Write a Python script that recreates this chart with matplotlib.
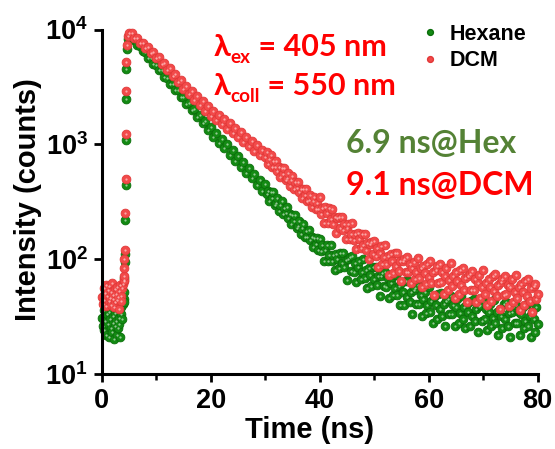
"""Time-resolved PL decay of the dye in hexane vs DCM (TCSPC, log scale)."""

import numpy as np
import matplotlib
matplotlib.use("Agg")
import matplotlib.pyplot as plt
from matplotlib.lines import Line2D
from matplotlib.transforms import IdentityTransform

# ---- data (counts) ----
t_pre = np.arange(0.125, 4.01, 0.125)        # pre-pulse channels, ns
hexane_pre = [31, 26, 36, 24, 29, 38, 22, 33, 27, 21, 35, 30, 25, 37, 23, 28,
              32, 20, 26, 34, 29, 22, 36, 25, 31, 27, 21, 33, 38, 30, 41, 45]
dcm_pre = [47, 41, 56, 44, 51, 60, 39, 48, 54, 43, 58, 46, 40, 52, 62, 45,
           49, 38, 55, 42, 50, 57, 44, 47, 53, 37, 59, 48, 43, 56, 61, 64]

t_rise_hexane = [4.05, 4.1, 4.15, 4.2, 4.25, 4.35, 4.4, 4.45, 4.5, 4.55, 4.6, 4.75]
hexane_rise = [42, 52, 68, 95, 112, 220, 440, 1100, 2500, 4500, 6800, 8300]
t_rise_dcm = [4.0, 4.05, 4.1, 4.15, 4.25, 4.35, 4.4, 4.45, 4.5, 4.55, 4.65, 4.8]
dcm_rise = [66, 72, 83, 100, 120, 250, 495, 1240, 2900, 5200, 7300, 8700]

t_main = np.arange(5.0, 29.75, 0.5)          # 5.0 .. 29.5 ns
hexane_main = [8800, 8300, 8100, 7350, 7150, 6450, 6350, 5700, 5600, 5000,
               4950, 4420, 4400, 3850, 3800, 3330, 3380, 2950, 2980, 2580,
               2600, 2230, 2310, 1990, 2040, 1720, 1800, 1520, 1610, 1330,
               1410, 1160, 1260, 1030, 1120, 930, 1000, 810, 890, 720,
               785, 640, 700, 565, 620, 505, 550, 445, 490, 395]
dcm_main = [9300, 9400, 8400, 8500, 7650, 7700, 6900, 7050, 6250, 6400,
            5650, 5780, 5020, 5150, 4420, 4600, 3900, 4080, 3460, 3620,
            3060, 3250, 2740, 2930, 2440, 2650, 2190, 2390, 1960, 2150,
            1760, 1960, 1620, 1800, 1490, 1650, 1370, 1530, 1250, 1400,
            1150, 1290, 1050, 1170, 965, 1075, 880, 985, 805, 900]

t_tail = np.arange(30.0, 80.01, 0.25)        # 30 .. 80 ns
hexane_tail = [448, 366, 389, 319, 382, 340, 384, 298, 308, 340, 264, 295,
               321, 248, 281, 250, 282, 230, 245, 201, 241, 214, 242, 187,
               194, 213, 166, 185, 201, 156, 176, 156, 178, 146, 155, 127,
               152, 135, 154, 119, 151, 118, 132, 97, 121, 132, 97, 109,
               134, 96, 109, 81, 112, 100, 83, 113, 92, 114, 85, 98,
               66, 100, 104, 79, 106, 78, 92, 63, 85, 96, 67, 78,
               101, 69, 81, 56, 84, 73, 58, 86, 67, 86, 60, 72,
               48, 72, 76, 58, 77, 57, 68, 46, 62, 70, 49, 56,
               73, 49, 58, 40, 62, 52, 40, 65, 47, 65, 42, 52,
               33, 54, 56, 41, 59, 41, 49, 32, 45, 52, 34, 40,
               57, 35, 43, 28, 47, 40, 30, 50, 37, 51, 32, 41,
               26, 43, 45, 33, 48, 33, 40, 26, 38, 45, 28, 34,
               48, 30, 38, 25, 41, 35, 26, 43, 32, 45, 29, 37,
               23, 39, 40, 29, 43, 30, 37, 24, 35, 41, 26, 31,
               44, 28, 35, 22, 37, 32, 25, 41, 30, 42, 26, 34,
               21, 35, 38, 28, 40, 28, 35, 22, 33, 38, 25, 29,
               41, 26, 32, 21, 35, 30, 23, 38, 27]
dcm_tail = [776, 858, 669, 747, 814, 630, 716, 636, 722, 590, 630, 519,
            621, 554, 627, 488, 506, 559, 436, 487, 531, 411, 467, 416,
            473, 386, 412, 339, 407, 362, 409, 319, 330, 365, 286, 320,
            350, 272, 310, 276, 347, 248, 280, 206, 283, 250, 208, 281,
            226, 276, 203, 233, 168, 229, 234, 186, 231, 180, 203, 149,
            185, 202, 150, 166, 205, 147, 166, 122, 169, 149, 124, 167,
            134, 164, 121, 139, 100, 136, 140, 112, 145, 107, 125, 85,
            114, 129, 90, 104, 134, 90, 106, 73, 111, 96, 76, 113,
            87, 114, 79, 96, 64, 97, 101, 78, 105, 77, 91, 62,
            84, 95, 67, 78, 103, 69, 83, 57, 87, 76, 61, 91,
            70, 96, 62, 78, 49, 81, 87, 62, 91, 63, 77, 50,
            72, 84, 54, 66, 92, 58, 71, 46, 77, 65, 50, 81,
            60, 83, 54, 68, 42, 71, 74, 54, 79, 54, 67, 42,
            62, 73, 46, 57, 80, 50, 62, 40, 67, 57, 43, 71,
            53, 74, 48, 60, 37, 63, 67, 49, 72, 50, 60, 39,
            57, 67, 42, 52, 73, 46, 57, 36, 61, 52, 40, 65,
            48, 67, 43, 56, 35, 58, 61, 45, 50]

x_ticks = [0, 20, 40, 60, 80]
y_ticks = [10, 100, 1000, 10000]
y_ticklabels = [r"$\mathbf{10^{1}}$", r"$\mathbf{10^{2}}$",
                r"$\mathbf{10^{3}}$", r"$\mathbf{10^{4}}$"]

GREEN, GREEN_EDGE, GREEN_HI = "#138a13", "#0b6e0b", "#cfe8cf"
RED, RED_EDGE, RED_HI = "#f24a4a", "#e23838", "#ffd2d2"

W, H = 555, 449

plt.rcParams["font.family"] = ["Liberation Sans", "DejaVu Sans"]
plt.rcParams["font.weight"] = "bold"
plt.rcParams["mathtext.fontset"] = "custom"
plt.rcParams["mathtext.bf"] = "Liberation Sans:bold"
plt.rcParams["mathtext.rm"] = "Liberation Sans:bold"


def series(t_parts, y_parts):
    return np.concatenate([np.asarray(t, float) for t in t_parts]), \
        np.concatenate([np.asarray(y, float) for y in y_parts])


def draw_dots(ax, t, y, face, edge, hi):
    ax.plot(t, y, ls="none", marker="o", ms=6.3, mfc=face, mec=edge,
            mew=0.6, clip_on=False)
    ax.plot(t, y, ls="none", marker="o", ms=1.6, mfc=hi, mec="none",
            alpha=0.7, clip_on=False)


def text_run(fig, x, y, parts, color, size, family):
    """Place pieces of text one after another; y is the baseline in image px,
    dy shifts a piece down (subscript)."""
    r = fig.canvas.get_renderer()
    for s, scale, dy in parts:
        t = fig.text(x, H - y - dy, s, transform=IdentityTransform(),
                     color=color, fontsize=size * scale, fontweight="bold",
                     family=family, ha="left", va="baseline")
        x = t.get_window_extent(r).x1


fig = plt.figure(figsize=(W / 100, H / 100), dpi=100)
ax = fig.add_axes([101.7 / W, 75 / H, 436 / W, 344.5 / H])

t_hex, y_hex = series([t_pre, t_rise_hexane, t_main, t_tail],
                      [hexane_pre, hexane_rise, hexane_main, hexane_tail])
t_dcm, y_dcm = series([t_pre, t_rise_dcm, t_main, t_tail],
                      [dcm_pre, dcm_rise, dcm_main, dcm_tail])
draw_dots(ax, t_hex, y_hex, GREEN, GREEN_EDGE, GREEN_HI)
draw_dots(ax, t_dcm, y_dcm, RED, RED_EDGE, RED_HI)

ax.set_yscale("log")
ax.set_xlim(0, 80)
ax.set_ylim(10, 10000)
ax.set_xticks(x_ticks)
ax.set_xticks([10, 30, 50, 70], minor=True)
ax.set_yticks(y_ticks, labels=y_ticklabels)
ax.yaxis.set_minor_locator(matplotlib.ticker.NullLocator())
for s in ("top", "right"):
    ax.spines[s].set_visible(False)
for s in ("left", "bottom"):
    ax.spines[s].set_linewidth(2.2)
ax.tick_params(which="major", length=6, width=2, labelsize=19.5, pad=4)
ax.tick_params(which="minor", length=4, width=1.8)
for lab in ax.get_xticklabels():
    lab.set_fontweight("bold")

fig.text(28, H - 200, "Intensity (counts)", transform=IdentityTransform(),
         rotation=90, ha="center", va="center", fontsize=21, fontweight="bold")
fig.text(310, H - 430, "Time (ns)", transform=IdentityTransform(),
         ha="center", va="center", fontsize=21, fontweight="bold")

handles = [Line2D([], [], ls="none", marker="o", ms=4.2, mfc=GREEN, mec=GREEN_EDGE),
           Line2D([], [], ls="none", marker="o", ms=4.2, mfc=RED, mec=RED_EDGE)]
ax.legend(handles, ["Hexane", "DCM"], loc="upper left",
          bbox_to_anchor=(424 / W, (H - 24) / H), bbox_transform=fig.transFigure,
          frameon=False, handlelength=0.6, handletextpad=0.6, labelspacing=0.25,
          borderpad=0, borderaxespad=0,
          prop={"family": "Liberation Sans", "weight": "bold", "size": 15.5})

calibri_like = ["Lato", "DejaVu Sans"]
text_run(fig, 214, 56, [("λ", 1.0, 0), ("ex", 0.62, 7), (" = 405 nm", 1.0, 0)],
         "#ff0000", 22, calibri_like)
text_run(fig, 214, 95, [("λ", 1.0, 0), ("coll", 0.62, 7), (" = 550 nm", 1.0, 0)],
         "#ff0000", 22, calibri_like)
text_run(fig, 346, 153, [("6.9 ns@Hex", 1.0, 0)], "#548235", 23, calibri_like)
text_run(fig, 346, 195, [("9.1 ns@DCM", 1.0, 0)], "#ff0000", 23, calibri_like)

fig.savefig("out.png", dpi=100)
